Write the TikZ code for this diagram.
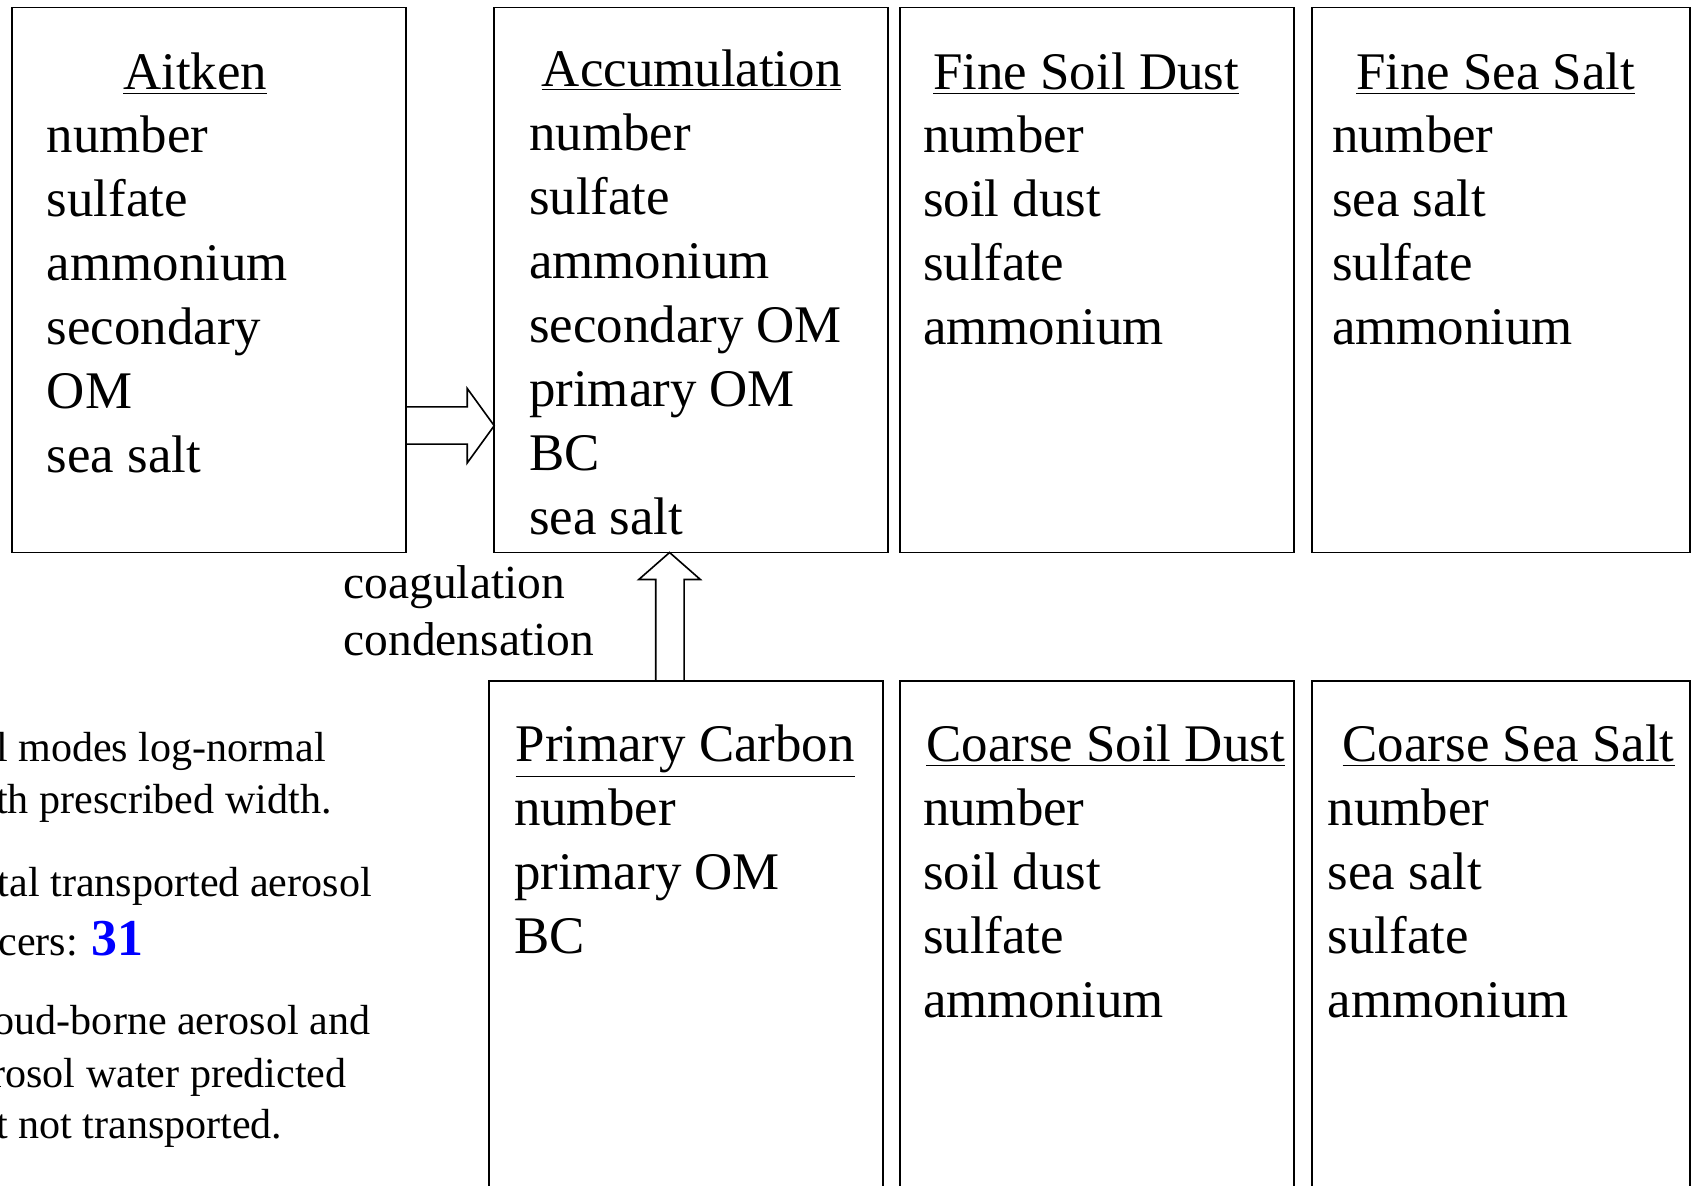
\documentclass[tikz,border=0pt]{standalone}
\usepackage{fontspec}
\setmainfont{Liberation Serif}
\usetikzlibrary{positioning,calc}

\tikzset{
  modebox/.style={draw, line width=0.75pt, outer sep=0pt, inner sep=0pt},
  modename/.style={anchor=base, inner sep=0pt, font=\fontsize{24.5}{29.7}\selectfont},
  species/.style={anchor=base west, inner sep=0pt, font=\fontsize{24.5}{29.7}\selectfont},
  procname/.style={anchor=base west, inner sep=0pt, font=\fontsize{22}{26}\selectfont},
  note/.style={anchor=base west, inner sep=0pt, font=\fontsize{19.5}{24}\selectfont},
  blockarrow/.style={draw, line width=0.75pt, line join=miter},
}

\begin{document}
\begin{tikzpicture}[x=0.5pt,y=-0.5pt]
  \clip (0,0) rectangle (1568,1099);
  % upper row of modes
  \node[modebox, minimum width=182.5pt, minimum height=252.5pt] (aitken) at (193.5,259.5) {};
  \node[modebox, minimum width=182.5pt, minimum height=252.5pt] (accum) at (640.5,259.5) {};
  \node[modebox, minimum width=182.5pt, minimum height=252.5pt] (finedust) at (1016.5,259.5) {};
  \node[modebox, minimum width=175pt, minimum height=252.5pt] (finesalt) at (1391,259.5) {};
  % lower row of modes
  \node[modebox, minimum width=182.5pt, minimum height=259.5pt] (pcarbon) at (635.5,890.5) {};
  \node[modebox, minimum width=182.5pt, minimum height=259.5pt] (coarsedust) at (1016.5,890.5) {};
  \node[modebox, minimum width=175pt, minimum height=259.5pt] (coarsesalt) at (1391,890.5) {};

  \node[modename] (aitken-t) at (181,83) {\underline{Aitken}};
  \node[modename] (accum-t) at (641,80) {\underline{Accumulation}};
  \node[modename] (finedust-t) at (1006.5,83) {\underline{Fine Soil Dust}};
  \node[modename] (finesalt-t) at (1386,83) {\underline{Fine Sea Salt}};
  \node[modename] (pcarbon-t) at (635,706) {\underline{Primary Carbon}};
  \node[modename] (coarsedust-t) at (1024.5,706) {\underline{Coarse Soil Dust}};
  \node[modename] (coarsesalt-t) at (1398,706) {\underline{Coarse Sea Salt}};

  % species carried in each mode
  \foreach \s [count=\i from 0] in {number,sulfate,ammonium,secondary,OM,sea salt}
    \node[species] (aitken-\i) at (43,141+59.4*\i) {\s};
  \foreach \s [count=\i from 0] in {number,sulfate,ammonium,secondary OM,primary OM,BC,sea salt}
    \node[species] (accum-\i) at (490,139+59.4*\i) {\s};
  \foreach \s [count=\i from 0] in {number,soil dust,sulfate,ammonium}
    \node[species] (finedust-\i) at (855,141+59.4*\i) {\s};
  \foreach \s [count=\i from 0] in {number,sea salt,sulfate,ammonium}
    \node[species] (finesalt-\i) at (1234,141+59.4*\i) {\s};
  \foreach \s [count=\i from 0] in {number,primary OM,BC}
    \node[species] (pcarbon-\i) at (476,765+59.4*\i) {\s};
  \foreach \s [count=\i from 0] in {number,soil dust,sulfate,ammonium}
    \node[species] (coarsedust-\i) at (855,765+59.4*\i) {\s};
  \foreach \s [count=\i from 0] in {number,sea salt,sulfate,ammonium}
    \node[species] (coarsesalt-\i) at (1230,765+59.4*\i) {\s};

  % transfer between modes
  \draw[blockarrow] (aitken.east |- 0,377) -- (433,377) -- (433,360) -- (accum.west |- 0,394.5)
    -- (433,429) -- (433,411.6) -- (aitken.east |- 0,411.6);
  \draw[blockarrow] (607.7,0 |- pcarbon.north) -- (607.7,537) -- (592,537) -- (620.5,0 |- accum.south)
    -- (649,537) -- (634,537) -- (634,0 |- pcarbon.north);
  \node[procname] (coag) at (318,555) {coagulation};
  \node[procname] (cond) at (318,607) {condensation};

  % notes
  \node[note] (note1) at (-43,706) {\hphantom{Al}l modes log-normal};
  \node[note] (note2) at (-43,754) {\hphantom{wi}th prescribed width.};
  \node[note] (note3) at (-43,831) {\hphantom{To}tal transported aerosol};
  \node[note] (note4) at (-43,885) {\hphantom{tra}cers: {\fontsize{24}{24}\selectfont\bfseries\color{blue}31}};
  \node[note] (note5) at (-43,959) {\hphantom{Cl}oud-borne aerosol and};
  \node[note] (note6) at (-43,1008) {\hphantom{ae}rosol water predicted};
  \node[note] (note7) at (-43,1055) {\hphantom{bu}t not transported.};
\end{tikzpicture}
\end{document}
